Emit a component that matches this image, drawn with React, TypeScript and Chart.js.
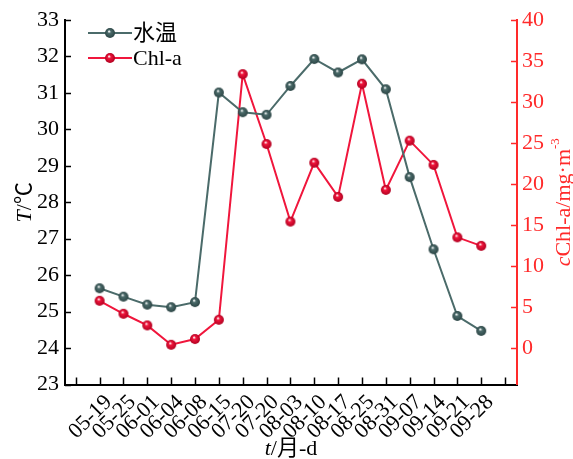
import React, { useEffect, useRef } from "react";
import { Chart, registerables } from "chart.js";

Chart.register(...registerables);

const dateLabels = ["05-19", "05-25", "06-01", "06-04", "06-08", "06-15", "07-20", "07-20", "08-03", "08-10", "08-17", "08-25", "08-31", "09-07", "09-14", "09-21", "09-28"];
const waterTemp = [25.64, 25.41, 25.19, 25.12, 25.26, 31.01, 30.47, 30.40, 31.19, 31.93, 31.56, 31.92, 31.10, 28.69, 26.71, 24.88, 24.47];
const chlA = [5.76, 4.18, 2.76, 0.4, 1.1, 3.45, 33.4, 24.88, 15.42, 22.6, 18.43, 32.23, 19.28, 25.29, 22.33, 13.5, 12.46];
const leftTicks = [23, 24, 25, 26, 27, 28, 29, 30, 31, 32, 33];
const rightTicks = [0, 5, 10, 15, 20, 25, 30, 35, 40];
const xTickIdx = [-1, ...dateLabels.map((_, i) => i), dateLabels.length];

const FONT = '"Liberation Serif", "Times New Roman", "Noto Sans CJK SC", serif';
const GREEN = "#4b6b6a";
const GREEN_DARK = "#2c4545";
const RED = "#f0163c";
const RED_DARK = "#b00020";
const AXIS_RED = "#ff2a2a";

function sphere(base: string, dark: string, r: number) {
  const c = document.createElement("canvas");
  const s = Math.ceil(r * 2 + 2);
  c.width = s;
  c.height = s;
  const ctx = c.getContext("2d")!;
  const cx = s / 2, cy = s / 2;
  const g = ctx.createRadialGradient(cx - r * 0.2, cy - r * 0.35, 0.3, cx, cy, r);
  g.addColorStop(0, "#ffffff");
  g.addColorStop(0.3, base);
  g.addColorStop(1, dark);
  ctx.fillStyle = g;
  ctx.beginPath();
  ctx.arc(cx, cy, r, 0, Math.PI * 2);
  ctx.fill();
  return c;
}

type Seg = { t: string; italic?: boolean; sup?: boolean };

function drawRich(ctx: CanvasRenderingContext2D, segs: Seg[], cx: number, cy: number, rot: number, size: number, color: string) {
  ctx.save();
  ctx.translate(cx, cy);
  ctx.rotate(rot);
  ctx.fillStyle = color;
  ctx.textBaseline = "middle";
  ctx.textAlign = "left";
  const fontOf = (s: Seg) => `${s.italic ? "italic " : ""}${s.sup ? Math.round(size * 0.6) : size}px ${FONT}`;
  let total = 0;
  const widths = segs.map((s) => {
    ctx.font = fontOf(s);
    const w = ctx.measureText(s.t).width;
    total += w;
    return w;
  });
  let x = -total / 2;
  segs.forEach((s, i) => {
    ctx.font = fontOf(s);
    ctx.fillText(s.t, x, s.sup ? -size * 0.4 : 0);
    x += widths[i];
  });
  ctx.restore();
}

export default function App() {
  const ref = useRef<HTMLCanvasElement | null>(null);

  useEffect(() => {
    document.body.style.margin = "0";
    const greenPt = sphere(GREEN, GREEN_DARK, 5);
    const redPt = sphere(RED, RED_DARK, 5);

    const decor = {
      id: "decor",
      afterDraw(chart: any) {
        const ctx = chart.ctx as CanvasRenderingContext2D;
        const { left, right, bottom } = chart.chartArea;
        const xs = chart.scales.x, yl = chart.scales.y, yr = chart.scales.y1;
        ctx.save();
        ctx.lineWidth = 1.5;
        ctx.strokeStyle = "#000";
        xTickIdx.forEach((v) => {
          const px = Math.round(xs.getPixelForValue(v)) + 0.5;
          ctx.beginPath();
          ctx.moveTo(px, bottom);
          ctx.lineTo(px, bottom - 7);
          ctx.stroke();
        });
        leftTicks.forEach((v) => {
          const py = Math.round(yl.getPixelForValue(v)) + 0.5;
          ctx.beginPath();
          ctx.moveTo(left, py);
          ctx.lineTo(left + 6, py);
          ctx.stroke();
        });
        ctx.strokeStyle = AXIS_RED;
        rightTicks.forEach((v) => {
          const py = Math.round(yr.getPixelForValue(v)) + 0.5;
          ctx.beginPath();
          ctx.moveTo(right, py);
          ctx.lineTo(right - 6, py);
          ctx.stroke();
        });

        // legend
        const items = [
          { y: 33, color: GREEN, img: greenPt, text: "水温" },
          { y: 58, color: RED, img: redPt, text: "Chl-a" },
        ];
        items.forEach((it) => {
          ctx.strokeStyle = it.color;
          ctx.lineWidth = 2;
          ctx.beginPath();
          ctx.moveTo(88, it.y);
          ctx.lineTo(132, it.y);
          ctx.stroke();
          ctx.drawImage(it.img, 110 - it.img.width / 2, it.y - it.img.height / 2);
          ctx.fillStyle = "#000";
          ctx.font = `22px ${FONT}`;
          ctx.textBaseline = "middle";
          ctx.textAlign = "left";
          ctx.fillText(it.text, 133, it.y + 1);
        });
        ctx.restore();

        drawRich(ctx, [{ t: "T", italic: true }, { t: "/℃" }], 25, (chart.chartArea.top + bottom) / 2, -Math.PI / 2, 22, "#000");
        drawRich(ctx, [{ t: "c", italic: true }, { t: "Chl-a/mg·m" }, { t: "-3", sup: true }], 564, (chart.chartArea.top + bottom) / 2, -Math.PI / 2, 22, AXIS_RED);
        drawRich(ctx, [{ t: "t", italic: true }, { t: "/月-d" }], (left + right) / 2, 449, 0, 22, "#000");
      },
    };

    const chart = new Chart(ref.current!, {
      type: "line",
      data: {
        datasets: [
          {
            label: "水温",
            data: waterTemp.map((v, i) => ({ x: i, y: v })),
            yAxisID: "y",
            borderColor: GREEN,
            borderWidth: 2,
            pointStyle: greenPt as any,
            pointRadius: 5,
            tension: 0,
          },
          {
            label: "Chl-a",
            data: chlA.map((v, i) => ({ x: i, y: v })),
            yAxisID: "y1",
            borderColor: RED,
            borderWidth: 2,
            pointStyle: redPt as any,
            pointRadius: 5,
            tension: 0,
          },
        ],
      },
      options: {
        animation: false,
        responsive: true,
        maintainAspectRatio: false,
        layout: { padding: { top: 20, left: 0, right: 0, bottom: 0 } },
        plugins: { legend: { display: false }, tooltip: { enabled: false } },
        scales: {
          x: {
            type: "linear",
            min: -1.45,
            max: dateLabels.length + 0.5,
            afterBuildTicks: (s: any) => {
              s.ticks = xTickIdx.map((v) => ({ value: v }));
            },
            afterFit: (s: any) => {
              s.height = 74.5;
            },
            grid: { display: true, drawOnChartArea: false, drawTicks: false, color: "#000" },
            border: { display: true, color: "#000", width: 2 },
            ticks: {
              autoSkip: false,
              minRotation: 45,
              maxRotation: 45,
              padding: 5,
              labelOffset: 9,
              color: "#000",
              font: { family: FONT, size: 22 },
              callback: (v: any) => dateLabels[v as number] ?? "",
            },
          },
          y: {
            type: "linear",
            position: "left",
            min: 23,
            max: 33,
            afterBuildTicks: (s: any) => {
              s.ticks = leftTicks.map((v) => ({ value: v }));
            },
            afterFit: (s: any) => {
              s.width = 65;
            },
            grid: { display: true, drawOnChartArea: false, drawTicks: false, color: "#000" },
            border: { display: true, color: "#000", width: 2 },
            ticks: { padding: 6, color: "#000", font: { family: FONT, size: 22 } },
          },
          y1: {
            type: "linear",
            position: "right",
            min: -40 / 9,
            max: 40,
            afterBuildTicks: (s: any) => {
              s.ticks = rightTicks.map((v) => ({ value: v }));
            },
            afterFit: (s: any) => {
              s.width = 56;
            },
            grid: { display: true, drawOnChartArea: false, drawTicks: false, color: AXIS_RED },
            border: { display: true, color: AXIS_RED, width: 2 },
            ticks: { padding: 5, color: AXIS_RED, font: { family: FONT, size: 22 } },
          },
        },
      },
      plugins: [decor],
    });
    return () => chart.destroy();
  }, []);

  return (
    <div style={{ width: 573, height: 459, position: "relative" }}>
      <canvas ref={ref} />
    </div>
  );
}
